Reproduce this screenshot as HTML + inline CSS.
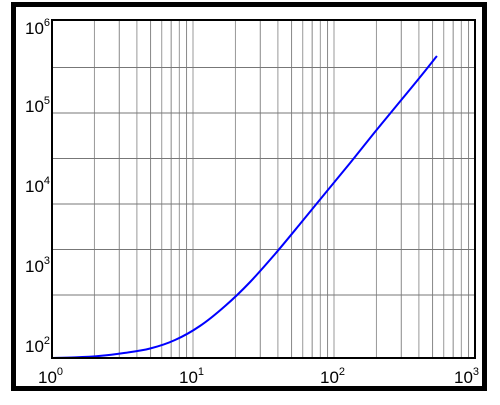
<!DOCTYPE html>
<html><head><meta charset="utf-8"><style>
body{margin:0;background:#fff;}
svg text{font-family:"Liberation Sans",sans-serif;}
</style></head><body>
<svg id="chart" width="500" height="400" viewBox="0 0 500 400" xmlns="http://www.w3.org/2000/svg">
<rect x="13.5" y="4.5" width="471" height="384" fill="#fff" stroke="#000" stroke-width="5"/>
<g id="grid"></g>
<g id="labels"></g>
<path id="curve" fill="none" stroke="#0000ff" stroke-width="2"/>
<rect x="52" y="20" width="423" height="338" fill="none" stroke="#000" stroke-width="2"/>
</svg>
<script>
const xTicks=[0,1,2,3];
const yTicks=[2,3,4,5,6];
const yGrid=[3,3.5,4,4.5,5,5.5];
const xs=[1,1.456,2.19,3.29,4.96,7.45,11.2,16.9,25.4,38.2,57.4,86.3,130,195,294,442,537];
const ys=[203,206,214,231,258,320,456,757,1390,2825,6030,13030,28250,61800,133700,289500,422700];
const X=v=>52+Math.log10(v)*141;
const Ylog=l=>113+(5-l)*91;
const Y=v=>Ylog(Math.log10(v));
const NS="http://www.w3.org/2000/svg";
const grid=document.getElementById('grid'),labels=document.getElementById('labels');
function line(x1,y1,x2,y2,c){const l=document.createElementNS(NS,'line');
l.setAttribute('x1',x1);l.setAttribute('y1',y1);l.setAttribute('x2',x2);l.setAttribute('y2',y2);
l.setAttribute('stroke',c);l.setAttribute('stroke-width',1);


grid.appendChild(l);}
for(let d=0;d<3;d++)for(let m=2;m<=10;m++){const x=X(m*Math.pow(10,d));if(x<475)line(x,20,x,358,m%2?'#888':'#999');}
yGrid.forEach(l=>line(52,Ylog(l),475,Ylog(l),'#777'));
function lab(x,y,e,name){const t=document.createElementNS(NS,'text');
t.setAttribute('x',x);t.setAttribute('y',y);t.setAttribute('font-size','17');


t.innerHTML='10<tspan dy="-8" font-size="11">'+e+'</tspan>';labels.appendChild(t);}
xTicks.forEach(e=>lab(Math.min(X(Math.pow(10,e))-14,454),383,e,'x-tick-label'));
const yPos={2:352,3:272,4:192,5:112,6:34};
yTicks.forEach(e=>lab(25,yPos[e],e,'y-tick-label'));
const P=xs.map((x,i)=>[X(x),Y(ys[i])]);
let d='M'+P[0][0].toFixed(1)+','+P[0][1].toFixed(1);
for(let i=0;i<P.length-1;i++){const p0=P[Math.max(i-1,0)],p1=P[i],p2=P[i+1],p3=P[Math.min(i+2,P.length-1)];
d+='C'+(p1[0]+(p2[0]-p0[0])/6).toFixed(1)+','+(p1[1]+(p2[1]-p0[1])/6).toFixed(1)+' '+(p2[0]-(p3[0]-p1[0])/6).toFixed(1)+','+(p2[1]-(p3[1]-p1[1])/6).toFixed(1)+' '+p2[0].toFixed(1)+','+p2[1].toFixed(1);}
document.getElementById('curve').setAttribute('d',d);
</script>
</body></html>
